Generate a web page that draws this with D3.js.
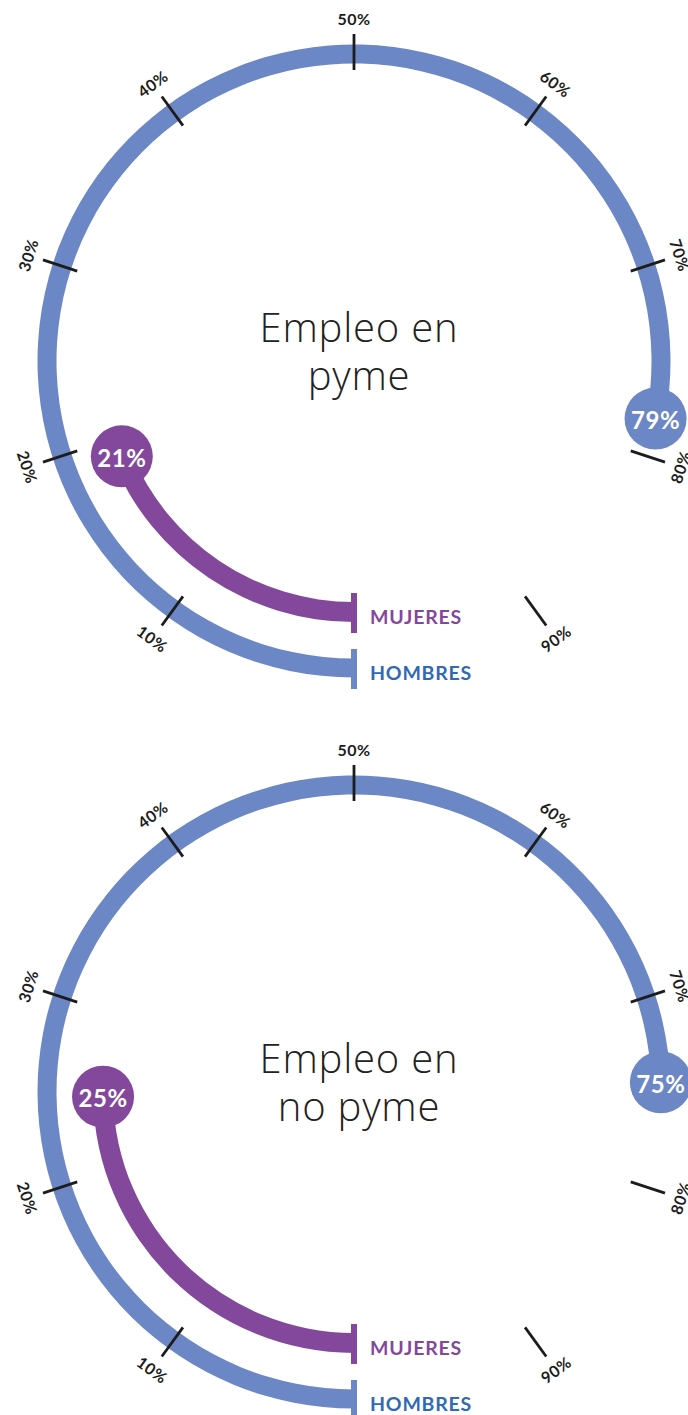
<!DOCTYPE html>
<html>
<head>
<meta charset="utf-8">
<script src="https://cdn.jsdelivr.net/npm/d3@7"></script>
<style>
  html, body { margin: 0; padding: 0; background: #ffffff; }
  svg { display: block; }
</style>
</head>
<body>
<div id="chart"></div>
<script>
// ---- data ----
const charts = ["Empleo en pyme", "Empleo en no pyme"];
const titleLines = [["Empleo en", "pyme"], ["Empleo en", "no pyme"]];
const hombresValues = [79, 75];          // labelled share, %
const mujeresValues = [21, 25];          // labelled share, %
const hombresArcEnd = [78, 74.5];        // where the drawn arc ends, %
const mujeresArcEnd = [18.8, 24.7];      // where the drawn arc ends, %
const tickValues = [10, 20, 30, 40, 50, 60, 70, 80, 90];
const seriesNames = ["MUJERES", "HOMBRES"];

// ---- layout ----
const W = 688, H = 1415;
const cx = 354;
const centersY = [361, 1092];
const rH = 307, rM = 251, band = 19;

const colH = "#6c87c5", colM = "#83489b", colHText = "#2f6ab4", ink = "#1c1c1c";
const fontB = "Lato, 'Noto Sans', sans-serif";
const fontT = "'Open Sans', 'Noto Sans', sans-serif";

const svg = d3.select("#chart").append("svg").attr("width", W).attr("height", H);

// percent -> angle (d3 arc convention: 0 at 12 o'clock, clockwise); 0% at bottom
const angle = d3.scaleLinear().domain([0, 100]).range([Math.PI, 3 * Math.PI]);
const pt = (pct, r) => [Math.sin(angle(pct)) * r, -Math.cos(angle(pct)) * r];

charts.forEach((name, i) => {
  const g = svg.append("g").attr("transform", `translate(${cx},${centersY[i]})`);

  const arc = d3.arc();
  // hombres arc
  g.append("path")
    .attr("d", arc({innerRadius: rH - band / 2, outerRadius: rH + band / 2,
                    startAngle: angle(0), endAngle: angle(hombresArcEnd[i])}))
    .attr("fill", colH);
  // mujeres arc
  g.append("path")
    .attr("d", arc({innerRadius: rM - band / 2 - 0.5, outerRadius: rM + band / 2 + 0.5,
                    startAngle: angle(0), endAngle: angle(mujeresArcEnd[i])}))
    .attr("fill", colM);

  // start caps
  [[rM, colM], [rH, colH]].forEach(([r, c]) => {
    g.append("rect").attr("x", -3).attr("y", r - 19).attr("width", 6).attr("height", 40).attr("fill", c);
  });

  // ticks
  tickValues.forEach(t => {
    const [x1, y1] = pt(t, 291), [x2, y2] = pt(t, 327);
    g.append("line").attr("x1", x1).attr("y1", y1).attr("x2", x2).attr("y2", y2)
      .attr("stroke", ink).attr("stroke-width", 2.8);
    const [lx, ly] = pt(t, 343);
    let rot = (t - 50) * 3.6;
    if (rot > 90) rot -= 180;
    if (rot < -90) rot += 180;
    g.append("text").attr("transform", `translate(${lx},${ly}) rotate(${rot})`)
      .attr("text-anchor", "middle").attr("dominant-baseline", "central")
      .attr("font-family", fontB).attr("font-weight", 700)
      .attr("font-size", 16).attr("letter-spacing", 0.4).attr("fill", ink).text(t + "%");
  });

  // badges
  [[hombresArcEnd[i], hombresValues[i], rH, colH], [mujeresArcEnd[i], mujeresValues[i], rM, colM]]
    .forEach(([end, v, r, c]) => {
      const [bx, by] = pt(end, r);
      g.append("circle").attr("cx", bx).attr("cy", by).attr("r", 31).attr("fill", c);
      g.append("text").attr("x", bx).attr("y", by + 1)
        .attr("text-anchor", "middle").attr("dominant-baseline", "central")
        .attr("font-family", fontB).attr("font-weight", 700)
        .attr("font-size", 24).attr("letter-spacing", 0.5).attr("fill", "#ffffff").text(v + "%");
    });

  // series labels
  [[seriesNames[0], rM, colM], [seriesNames[1], rH, colHText]].forEach(([s, r, c]) => {
    g.append("text").attr("x", 16).attr("y", r + 12)
      .attr("font-family", fontB).attr("font-weight", 700)
      .attr("font-size", 19.5).attr("letter-spacing", 0.8).attr("fill", c).text(s);
  });

  // title (one text element, two lines)
  const title = g.append("text")
    .attr("text-anchor", "middle")
    .attr("font-family", fontT).attr("font-weight", 300)
    .attr("font-size", 40).attr("letter-spacing", 0.8).attr("fill", "#222222");
  titleLines[i].forEach((line, k) => {
    title.append("tspan").attr("x", 5).attr("y", -19 + k * 48).text(line);
  });
});
</script>
</body>
</html>
